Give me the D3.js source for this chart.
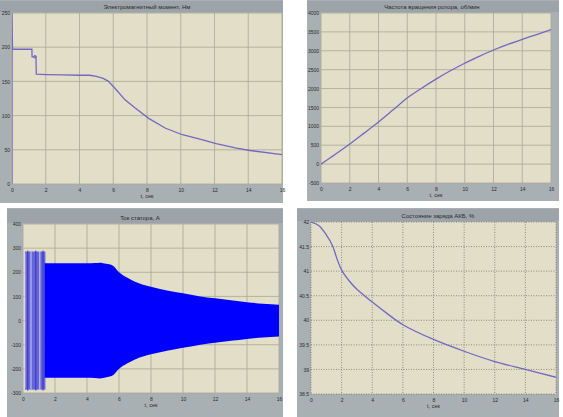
<!DOCTYPE html>
<html>
<head>
<meta charset="utf-8">
<script src="https://cdn.jsdelivr.net/npm/d3@7"></script>
<style>
  body { margin: 0; background: #fff; }
  svg text { font-family: "Liberation Sans", Arial, sans-serif; fill: #2a2a2a; }
</style>
</head>
<body>
<div id="chart"></div>
<script>
// ---- data ----
var xTicks = [0, 2, 4, 6, 8, 10, 12, 14, 16];

var torqueT = [0, 0, 0.03, 1.18, 1.19, 1.42, 1.44, 2, 3, 4, 4.6, 5, 5.4, 5.7, 6.1, 6.7, 7.3, 8.1, 9.1, 10.1, 11.3, 12.1, 13.3, 14.1, 16];
var torqueV = [0, 250, 197, 197, 186, 186, 160.5, 160, 159.5, 159, 159, 157.5, 154.5, 150.5, 140, 123, 111, 96, 81.5, 72, 64.5, 59, 52.5, 49, 43];
var torqueTicks = [0, 50, 100, 150, 200, 250];

var speedT = [0, 1, 2, 3, 4, 5, 6, 7, 8, 9, 10, 11, 12, 13, 14, 15, 16];
var speedV = [0, 260, 530, 820, 1115, 1430, 1750, 2010, 2250, 2470, 2670, 2850, 3020, 3170, 3300, 3430, 3560];
var speedTicks = [-500, 0, 500, 1000, 1500, 2000, 2500, 3000, 3500, 4000];

var currentT = [1.35, 2, 3, 4, 4.5, 4.8, 5.2, 5.6, 6, 6.5, 7, 8, 9, 10, 11, 12, 13, 14, 15, 16];
var currentA = [237, 237, 237, 237, 238, 240, 235, 228, 200, 178, 161, 140, 125, 113, 101, 92, 84, 76, 70, 66];
var transientT = [0.12, 0.3, 0.5, 0.8, 1.05, 1.25];
var transientA = [280, 290, 285, 290, 288, 290];
var currentTicks = [-300, -200, -100, 0, 100, 200, 300, 400];

var socT = [0, 0.5, 1, 1.4, 1.7, 2, 2.5, 3, 4, 5, 6, 8, 10, 12, 14, 16];
var socV = [42, 41.93, 41.74, 41.52, 41.25, 41.02, 40.8, 40.63, 40.37, 40.13, 39.91, 39.61, 39.37, 39.16, 39.0, 38.84];
var socTicks = [38.5, 39, 39.5, 40, 40.5, 41, 41.5, 42];

var titles = ["Электромагнитный момент, Нм", "Частота вращения ротора, об/мин", "Ток статора, А", "Состояние заряда АКБ, %"];

var svg = d3.select("#chart").append("svg")
    .attr("width", 563)
    .attr("height", 417);

function panel(opt) {
    var g = svg.append("g");
    g.append("rect")
        .attr("x", opt.box[0]).attr("y", opt.box[1])
        .attr("width", opt.box[2]).attr("height", opt.box[3])
        .attr("fill", "#a9b0b4");
    // title strip
    g.append("rect")
        .attr("x", opt.box[0]).attr("y", opt.box[1] + 1)
        .attr("width", opt.box[2]).attr("height", opt.plot[1] - opt.box[1] - 2)
        .attr("fill", "#9ca4a9");
    g.append("text")
        .attr("x", opt.titleX)
        .attr("y", opt.plot[1] - 4)
        .attr("text-anchor", "middle")
        .attr("font-size", 6)
        .text(opt.title);

    var x = d3.scaleLinear().domain([0, 16]).range([opt.plot[0], opt.plot[2]]);
    var y = d3.scaleLinear().domain(opt.yDomain).range([opt.plot[3], opt.plot[1]]);

    g.append("rect")
        .attr("x", opt.plot[0]).attr("y", opt.plot[1])
        .attr("width", opt.plot[2] - opt.plot[0]).attr("height", opt.plot[3] - opt.plot[1])
        .attr("fill", "#e2dec7");

    var grid = g.append("g");
    grid.selectAll(".gx").data(xTicks).enter().append("line")
        .attr("x1", d => x(d)).attr("x2", d => x(d))
        .attr("y1", opt.plot[1]).attr("y2", opt.plot[3]);
    grid.selectAll(".gy").data(opt.yTicks).enter().append("line")
        .attr("x1", opt.plot[0]).attr("x2", opt.plot[2])
        .attr("y1", d => y(d)).attr("y2", d => y(d));
    grid.selectAll("line")
        .attr("stroke", opt.dotted ? "#55554a" : "#aaa894")
        .attr("stroke-width", opt.dotted ? 0.6 : 0.8)
        .attr("stroke-dasharray", opt.dotted ? "1,1.5" : null);

    var xAxis = d3.axisBottom(x).tickValues(xTicks).tickSize(0).tickPadding(4).tickFormat(d => String(d));
    g.append("g").attr("transform", "translate(0," + opt.plot[3] + ")").call(xAxis)
        .call(a => a.select(".domain").remove())
        .selectAll("text").attr("font-size", 5).attr("fill", "#333");
    var yAxis = d3.axisLeft(y).tickValues(opt.yTicks).tickSize(0).tickPadding(2).tickFormat(d => String(d));
    g.append("g").attr("transform", "translate(" + opt.plot[0] + ",0)").call(yAxis)
        .call(a => a.select(".domain").remove())
        .selectAll("text").attr("font-size", 5).attr("fill", "#333");

    g.append("text")
        .attr("x", (opt.plot[0] + opt.plot[2]) / 2)
        .attr("y", opt.plot[3] + 14)
        .attr("text-anchor", "middle")
        .attr("font-size", 5.5)
        .text("t, сек");

    var clipId = "clip" + opt.id;
    svg.append("clipPath").attr("id", clipId).append("rect")
        .attr("x", opt.plot[0]).attr("y", opt.plot[1])
        .attr("width", opt.plot[2] - opt.plot[0]).attr("height", opt.plot[3] - opt.plot[1]);
    var body = g.append("g").attr("clip-path", "url(#" + clipId + ")");
    return { x: x, y: y, body: body };
}

function drawLine(p, ts, vs, curve) {
    p.body.append("path")
        .datum(ts.map((t, i) => [t, vs[i]]))
        .attr("fill", "none")
        .attr("stroke", "#7467c4")
        .attr("stroke-width", 1.3)
        .attr("d", d3.line().x(d => p.x(d[0])).y(d => p.y(d[1])).curve(curve || d3.curveLinear));
}

// top-left: torque
var p1 = panel({ id: 1, box: [0, 0, 283, 203], plot: [12, 13, 282, 184], titleX: 147,
    yDomain: [0, 250], yTicks: torqueTicks, title: titles[0] });
drawLine(p1, torqueT, torqueV);
p1.body.append("circle").attr("cx", p1.x(1.36)).attr("cy", p1.y(186)).attr("r", 1.3)
    .attr("fill", "none").attr("stroke", "#7467c4");

// top-right: speed
var p2 = panel({ id: 2, box: [307, 0, 252, 201], plot: [321, 13, 551, 183], titleX: 432,
    yDomain: [-500, 4000], yTicks: speedTicks, title: titles[1] });
drawLine(p2, speedT, speedV, d3.curveMonotoneX);

// bottom-left: stator current
var p3 = panel({ id: 3, box: [7, 208, 276, 209], plot: [23, 224, 279, 393], titleX: 140,
    yDomain: [-300, 400], yTicks: currentTicks, title: titles[2] });
p3.body.append("rect")
    .attr("x", p3.x(transientT[0])).attr("width", p3.x(1.4) - p3.x(transientT[0]))
    .attr("y", p3.y(286)).attr("height", p3.y(-286) - p3.y(286))
    .attr("fill", "#6565d8");
p3.body.selectAll(".stripe").data(transientT).enter().append("line")
    .attr("x1", d => p3.x(d)).attr("x2", d => p3.x(d))
    .attr("y1", (d, i) => p3.y(transientA[i])).attr("y2", (d, i) => p3.y(-transientA[i]))
    .attr("stroke", (d, i) => i % 2 ? "#2c2cc8" : "#d8d8f4")
    .attr("stroke-width", 0.9);
p3.body.append("path")
    .datum(currentT.map((t, i) => [t, currentA[i]]))
    .attr("fill", "#0000ff")
    .attr("d", d3.area().x(d => p3.x(d[0])).y0(d => p3.y(-d[1])).y1(d => p3.y(d[1])).curve(d3.curveMonotoneX));

// bottom-right: state of charge
var p4 = panel({ id: 4, box: [297, 208, 262, 209], plot: [311, 222, 556, 394], titleX: 438,
    yDomain: [38.5, 42], yTicks: socTicks, title: titles[3], dotted: true });
drawLine(p4, socT, socV, d3.curveCatmullRom);
</script>
</body>
</html>
